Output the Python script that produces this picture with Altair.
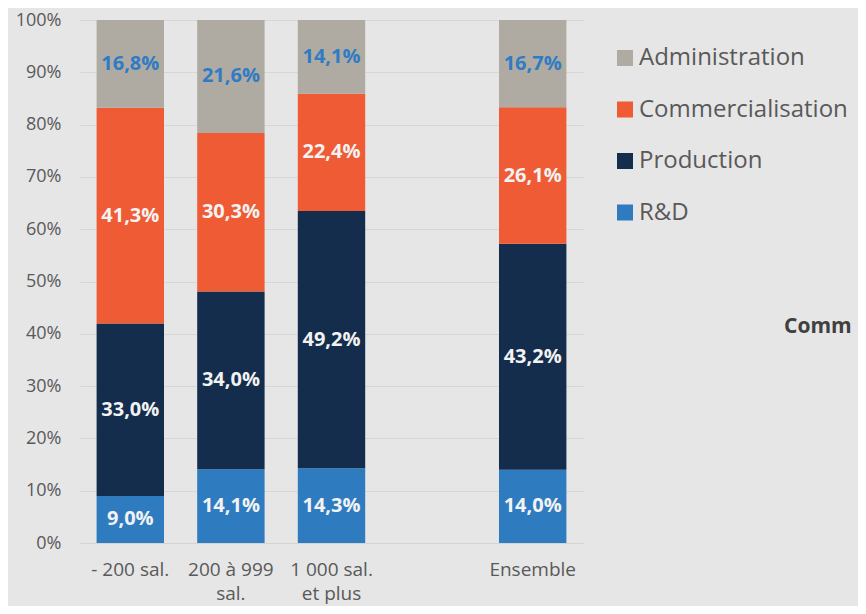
import altair as alt
import pandas as pd

categories = ["- 200 sal.", "200 à 999|sal.", "1 000 sal.|et plus", "gap", "Ensemble"]
bar_categories = ["- 200 sal.", "200 à 999|sal.", "1 000 sal.|et plus", "Ensemble"]
series = ["R&D", "Production", "Commercialisation", "Administration"]
rd = [9.0, 14.1, 14.3, 14.0]
production = [33.0, 34.0, 49.2, 43.2]
commercialisation = [41.3, 30.3, 22.4, 26.1]
administration = [16.8, 21.6, 14.1, 16.7]
colors = {"Administration": "#afaba2", "Commercialisation": "#ef5b35",
          "Production": "#142d4c", "R&D": "#2f7bc0"}
legend_order = ["Administration", "Commercialisation", "Production", "R&D"]

rows = []
for i, cat in enumerate(bar_categories):
    vals = [rd[i], production[i], commercialisation[i], administration[i]]
    for k, (s, v) in enumerate(zip(series, vals)):
        rows.append({"cat": cat, "serie": s, "val": v, "ord": k,
                     "label": f"{v:.1f}%".replace(".", ","),
                     "lblcolor": "admin" if s == "Administration" else "other"})
df = pd.DataFrame(rows)

FONT = "Open Sans"

x_enc = alt.X("cat:N", scale=alt.Scale(domain=categories, paddingInner=0.33, paddingOuter=0.165),
              sort=categories,
              axis=alt.Axis(title=None, labelExpr="datum.label == 'gap' ? '' : split(datum.label, '|')",
                            labelAngle=0, labelFontSize=19, labelColor="#595959", labelFont=FONT,
                            ticks=False, domainColor="#d4d4d4", domainWidth=1.2, labelPadding=17,
                            labelLineHeight=24, labelBaseline="top", grid=False))

y_enc = alt.Y("val:Q", stack="normalize",
              scale=alt.Scale(domain=[0, 1]),
              axis=alt.Axis(title=None, format=".0%", values=[i / 10 for i in range(11)],
                            labelFontSize=18, labelColor="#595959", labelFont=FONT,
                            ticks=False, domain=False, gridColor="#d6d6d6", gridWidth=1.2,
                            labelPadding=19))

bars = alt.Chart(df).mark_bar().encode(
    x=x_enc,
    y=y_enc,
    color=alt.Color("serie:N", scale=alt.Scale(domain=legend_order,
                                               range=[colors[s] for s in legend_order]),
                    legend=alt.Legend(title=None, orient="none", legendX=533, legendY=26,
                                      symbolType="square", symbolSize=256, symbolStrokeWidth=0,
                                      labelFontSize=24, labelFont=FONT, labelColor="#595959",
                                      labelOffset=2, rowPadding=27.5, padding=0,
                                      labelLimit=400)),
    order=alt.Order("ord:Q", sort="ascending"),
)

texts = alt.Chart(df).mark_text(fontSize=20, fontWeight="bold", font=FONT).encode(
    x=alt.X("cat:N", sort=categories, scale=alt.Scale(domain=categories)),
    y=alt.Y("val:Q", stack="normalize", bandPosition=0.5),
    detail="serie:N",
    order=alt.Order("ord:Q", sort="ascending"),
    color=alt.Color("lblcolor:N", scale=alt.Scale(domain=["admin", "other"],
                                                  range=["#2f7bc4", "#f2f2f2"]), legend=None),
)

note = alt.Chart(pd.DataFrame({"t": ["Comm"]})).mark_text(
    fontSize=21, fontWeight="bold", font=FONT, color="#404040", align="left", baseline="middle"
).encode(x=alt.value(704), y=alt.value(307), text="t:N")

chart = alt.layer(bars, texts.encode(text="label:N"), note).resolve_scale(color="independent").properties(
    width=503, height=523,
    autosize=alt.AutoSizeParams(type="none"),
    padding={"left": 72, "top": 12, "right": 275, "bottom": 63},
    background="#e6e6e6",
).configure_view(stroke=None)

chart.save("out.html", embed_options={"renderer": "svg", "actions": False})
